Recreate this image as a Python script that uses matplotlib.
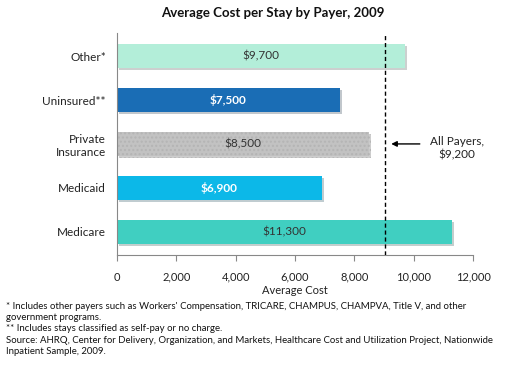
import matplotlib.pyplot as plt
import matplotlib.patheffects as pe

payers = ["Other*", "Uninsured**", "Private\nInsurance", "Medicaid", "Medicare"]
avg_cost = [9700, 7500, 8500, 6900, 11300]
bar_colors = ["#b3eed9", "#1a6db5", "#c2c2c2", "#0cb8e8", "#40cfc1"]
label_colors = ["#333333", "white", "#333333", "white", "#333333"]
label_bold = [False, True, False, True, False]
all_payers_line = 9050
all_payers_text = "All Payers,\n$9,200"
x_ticks = [0, 2000, 4000, 6000, 8000, 10000, 12000]

footnotes = (
    "* Includes other payers such as Workers' Compensation, TRICARE, CHAMPUS, CHAMPVA, Title V, and other\n"
    "government programs.\n"
    "** Includes stays classified as self-pay or no charge.\n"
    "Source: AHRQ, Center for Delivery, Organization, and Markets, Healthcare Cost and Utilization Project, Nationwide\n"
    "Inpatient Sample, 2009."
)

plt.rcParams["font.family"] = ["Lato", "DejaVu Sans"]
plt.rcParams["hatch.color"] = "#b4b4b4"

fig = plt.figure(figsize=(5.19, 3.70), dpi=100)
ax = fig.add_axes([0.2254, 0.311, 0.686, 0.600])

ypos = list(range(len(payers)))[::-1]
for y, v, c, i in zip(ypos, avg_cost, bar_colors, range(len(payers))):
    hatch = "...." if "Private" in payers[i] else None
    ax.barh(y, v, height=0.55, color=c, linewidth=0, hatch=hatch, zorder=2,
            path_effects=[pe.SimplePatchShadow(offset=(1.5, -1.5), alpha=0.25), pe.Normal()])
    ax.text(v / 2, y, f"${v:,}", ha="center", va="center", fontsize=8.5,
            color=label_colors[i], fontweight="bold" if label_bold[i] else "normal", zorder=4)

ax.axvline(all_payers_line, color="black", linestyle=(0, (3, 2)), linewidth=1, zorder=3)
ax.annotate("", xy=(all_payers_line + 100, ypos[2]), xytext=(10300, ypos[2]),
            arrowprops=dict(arrowstyle="-|>", color="black", lw=1, mutation_scale=8))
ax.text(11450, ypos[2] - 0.1, all_payers_text, ha="center", va="center", fontsize=8.5,
        color="#222222")

ax.set_xlim(0, 12000)
ax.set_ylim(-0.53, 4.53)
ax.set_xticks(x_ticks)
ax.set_xticklabels([f"{t:,}" for t in x_ticks], fontsize=8, color="#222222")
ax.set_yticks(ypos)
ax.set_yticklabels(payers, fontsize=8.5, color="#222222")
ax.tick_params(axis="y", length=0, pad=8)
ax.tick_params(axis="x", length=4, color="#888888", pad=8)
ax.set_xlabel("Average Cost", fontsize=8, color="#222222", labelpad=2)

for s in ["top", "right"]:
    ax.spines[s].set_visible(False)
for s in ["left", "bottom"]:
    ax.spines[s].set_color("#888888")

fig.text(0.525, 0.965, "Average Cost per Stay by Payer, 2009", ha="center", va="center",
         fontsize=9.5, fontweight="bold", color="#111111")
fig.text(0.012, 0.183, footnotes, ha="left", va="top", fontsize=6.9, color="#111111",
         linespacing=1.3)

fig.savefig("out.png", dpi=100)
